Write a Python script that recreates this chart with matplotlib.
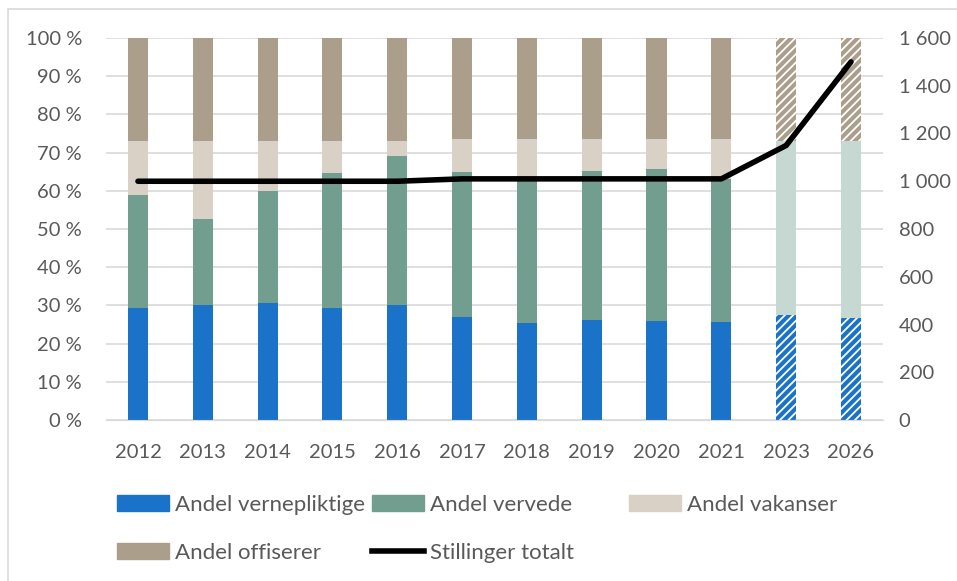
import numpy as np
import matplotlib
matplotlib.use("Agg")
import matplotlib.pyplot as plt
from matplotlib.patches import Patch, Rectangle
from matplotlib.lines import Line2D
from matplotlib.ticker import FuncFormatter

plt.rcParams['font.family'] = ['Lato', 'DejaVu Sans']
plt.rcParams['hatch.linewidth'] = 1.3

years = ['2012', '2013', '2014', '2015', '2016', '2017', '2018', '2019', '2020', '2021', '2023', '2026']
# shares in percent
verneplikt = [29.3, 30.0, 30.5, 29.4, 30.2, 27.0, 25.5, 26.3, 25.8, 25.6, 27.6, 26.6]
vervede = [29.7, 22.6, 29.5, 35.2, 38.8, 37.8, 37.5, 38.8, 39.8, 37.5, 45.4, 46.4]
vakanser = [14.0, 20.4, 13.0, 8.4, 4.0, 8.7, 10.5, 8.4, 7.9, 10.4, 0, 0]
offiserer = [27.0, 27.0, 27.0, 27.0, 27.0, 26.5, 26.5, 26.5, 26.5, 26.5, 27.0, 27.0]
stillinger = [1000, 1000, 1000, 1000, 1000, 1010, 1010, 1010, 1010, 1010, 1150, 1500]
projected = [False] * 10 + [True, True]

c_vern = '#1a73c9'
c_verv = '#729e8f'
c_verv_light = '#c6d8d2'
c_vak = '#d9d1c5'
c_off = '#ab9e8b'
txt = '#595959'

fig = plt.figure(figsize=(9.57, 5.81), dpi=100)
fig.patches.append(Rectangle((8 / 957, -0.1), 1.2, 1 - 9 / 581 + 0.1, transform=fig.transFigure,
                             fill=False, edgecolor='#d9d9d9', linewidth=1.2))
ax = fig.add_axes([0.1103, 0.2771, 0.8128, 0.6575])
x = np.arange(len(years))
w = 0.31

for i in x:
    b0 = 0
    h = projected[i]
    ax.bar(i, verneplikt[i], w, bottom=b0, color=c_vern, edgecolor='white' if h else c_vern,
           hatch='////' if h else None, linewidth=0, zorder=2)
    b0 += verneplikt[i]
    ax.bar(i, vervede[i], w, bottom=b0, color=c_verv_light if h else c_verv, linewidth=0, zorder=2)
    b0 += vervede[i]
    ax.bar(i, vakanser[i], w, bottom=b0, color=c_vak, linewidth=0, zorder=2)
    b0 += vakanser[i]
    ax.bar(i, 100 - b0, w, bottom=b0, color=c_off, edgecolor='white' if h else c_off,
           hatch='////' if h else None, linewidth=0, zorder=2)

ax.set_xlim(-0.5, len(years) - 0.5)
ax.set_ylim(0, 100)
ax.set_yticks(np.arange(0, 101, 10))
ax.yaxis.set_major_formatter(FuncFormatter(lambda v, p: f'{int(v)} %'))
ax.set_xticks(x)
ax.set_xticklabels(years)
ax.grid(axis='y', color='#d9d9d9', linewidth=1.2, zorder=0)
ax.set_axisbelow(True)
for s in ax.spines.values():
    s.set_visible(False)
ax.spines['bottom'].set_visible(True)
ax.spines['bottom'].set_color('#d9d9d9')
ax.tick_params(length=0, labelsize=14.5, colors=txt)
ax.tick_params(axis='y', pad=17)
ax.tick_params(axis='x', pad=17)

ax2 = ax.twinx()
ax2.plot(x, stillinger, color='black', linewidth=4, solid_capstyle='round', zorder=5)
ax2.set_ylim(0, 1600)
ax2.set_yticks(np.arange(0, 1601, 200))
ax2.yaxis.set_major_formatter(FuncFormatter(lambda v, p: f'{int(v):,}'.replace(',', ' ')))
for s in ax2.spines.values():
    s.set_visible(False)
ax2.tick_params(length=0, labelsize=14.5, colors=txt, pad=11)

h_vern = Patch(color=c_vern)
h_verv = Patch(color=c_verv)
h_vak = Patch(color=c_vak)
h_off = Patch(color=c_off)
h_line = Line2D([], [], color='black', linewidth=4)

kw = dict(frameon=False, fontsize=16, labelcolor=txt, handlelength=2.36, handleheight=0.7,
          handletextpad=0.27, labelspacing=1.25, borderpad=0, borderaxespad=0, loc='upper left')
top = 1 - 495 / 581
l1 = fig.legend([h_vern, h_off], ['Andel vernepliktige', 'Andel offiserer'],
                bbox_to_anchor=(117 / 957, top), **kw)
l2 = fig.legend([h_verv, h_line], ['Andel vervede', 'Stillinger totalt'],
                bbox_to_anchor=(372 / 957, top), **kw)
l3 = fig.legend([h_vak], ['Andel vakanser'],
                bbox_to_anchor=(629 / 957, top), **kw)

fig.savefig('out.png', dpi=100)
